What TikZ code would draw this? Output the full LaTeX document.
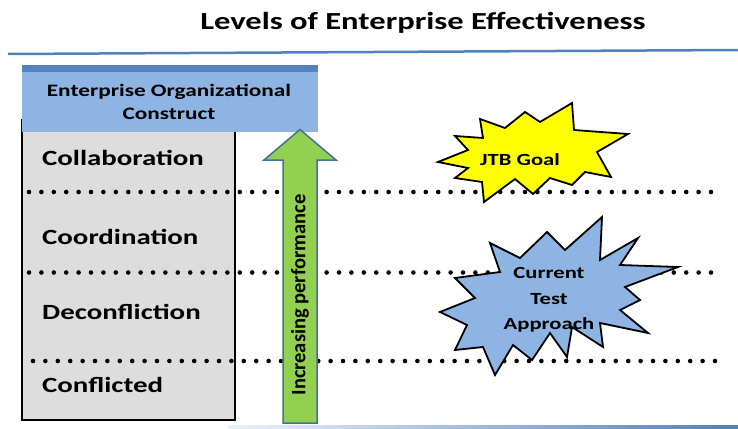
\documentclass[tikz,border=0pt]{standalone}
\usepackage{fontspec}
\setmainfont{Carlito}[FakeStretch=1.33]
\newfontfamily\plainfont{Carlito}
\definecolor{rulecol}{RGB}{79,129,189}
\definecolor{hdrlight}{RGB}{141,180,226}
\definecolor{hdrdark}{RGB}{84,130,190}
\definecolor{graybg}{RGB}{221,221,221}
\definecolor{arrowgreen}{RGB}{146,208,80}
\definecolor{arrowedge}{RGB}{65,113,156}
\definecolor{starblue}{RGB}{141,180,226}
\definecolor{staryellow}{RGB}{255,255,0}
\definecolor{faintblue}{RGB}{235,241,248}
\tikzset{
  leveltext/.style={anchor=west, inner sep=0pt, font=\bfseries\fontsize{21.7}{26}\selectfont},
  dotrow/.style={line width=4.6pt, line cap=round, dash pattern=on 0pt off 12.4pt},
  startext/.style={align=center, inner sep=0pt, font=\bfseries\fontsize{17}{25.5}\selectfont},
  starshape/.style={draw=black, line width=1.8pt, line join=miter, miter limit=20}
}
\begin{document}
\begin{tikzpicture}[x=1pt,y=-1pt]
\useasboundingbox (0,0) rectangle (738,428);
\fill[white] (0,0) rectangle (738,428);

% title and rule
\node[anchor=base, inner sep=0pt, font=\bfseries\fontsize{24.5}{29}\selectfont] (title) at (423,30) {Levels of Enterprise Effectiveness};
\draw[rulecol, line width=2.5pt] (8,54) -- (738,50);
\shade[left color=faintblue, right color=rulecol] (228,425.6) rectangle (738,428);

% gray column
\draw[fill=graybg, line width=2pt] (22,120) rectangle (235,420);

% header
\fill[hdrlight] (22,65) rectangle (318,132);
\fill[hdrdark] (22,65) rectangle (318,72);
\node[align=center, inner sep=0pt, font=\bfseries\fontsize{17.5}{23.5}\selectfont] (header) at (169,102) {Enterprise Organizational\\Construct};

% level labels
\node[leveltext] (collab) at (42,158) {Collaboration};
\node[leveltext] (coord) at (42,237) {Coordination};
\node[leveltext] (decon) at (42,312) {Deconfliction};
\node[leveltext] (confl) at (42,385) {Conflicted};

% dotted separators
\draw[dotrow] (29,192) -- (715,192);
\draw[dotrow] (29,272.5) -- (715,272.5);
\draw[dotrow] (33,361) -- (715,361);

% arrow
\draw[draw=arrowedge, fill=arrowgreen, line width=1.5pt, line join=miter]
  (283,423) -- (283,160) -- (264,160) -- (300,129.5) -- (336,160) -- (317,160) -- (317,423) -- cycle;
\node[rotate=90, inner sep=0pt, font=\plainfont\bfseries\fontsize{20.5}{24}\selectfont] (perf) at (300,295) {Increasing performance};

% JTB Goal star
\draw[starshape, fill=staryellow]
  (438,162) -- (468,150) -- (455,136) -- (483,138) -- (480,119) -- (505,128) -- (525,112) -- (540,122)
  -- (572,103) -- (574,130) -- (628,134) -- (597,152) -- (611,177) -- (585,172) -- (572,185)
  -- (550,178) -- (533,194) -- (515,179) -- (484,202) -- (482,182) -- (455,178) -- (468,168) -- cycle;
\node[startext] (jtb) at (520,160) {JTB Goal};

% Current Test Approach star
\draw[starshape, fill=starblue]
  (495,375) -- (483,347) -- (455,350) -- (467,325) -- (440,312) -- (475,298) -- (455,278) -- (500,272)
  -- (490,243) -- (520,258) -- (547,232) -- (565,250) -- (602,217) -- (600,260) -- (638,238)
  -- (620,265) -- (678,267) -- (625,287) -- (640,300) -- (620,310) -- (648,333) -- (600,323)
  -- (603,347) -- (572,327) -- (567,357) -- (550,333) -- (532,360) -- (513,345) -- cycle;
\node[startext] (cta) at (549,300) {Current\\Test\\Approach};
\end{tikzpicture}
\end{document}
